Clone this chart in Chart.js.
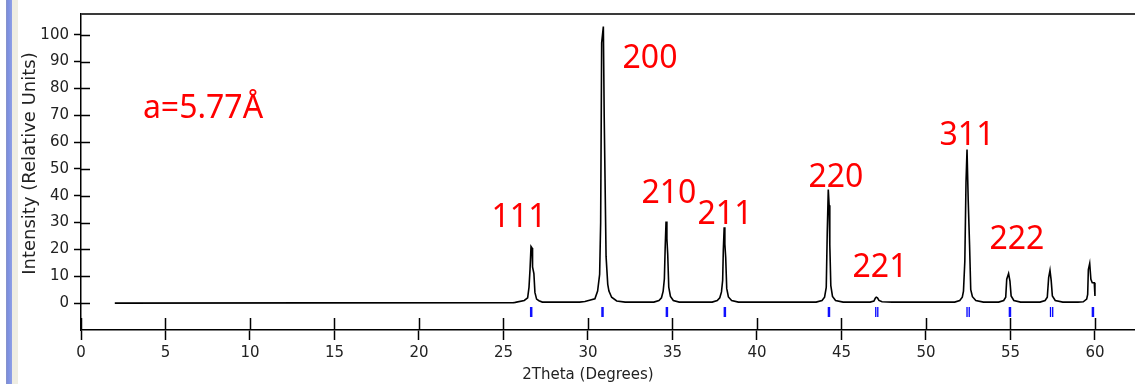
<!DOCTYPE html>
<html lang="en">
<head>
<meta charset="UTF-8">
<title>XRD pattern</title>
<script src="https://cdn.jsdelivr.net/npm/chart.js"></script>
<style>
body {
margin: 0;
background: #fff;
}
.frame {
position: relative;
width: 1135px;
height: 384px;
}
.edge-blue {
position: absolute;
left: 6px;
top: 0;
width: 6px;
height: 384px;
background: linear-gradient(to right, #8a94c4, #7b8ee0 30%, #8fa0e6);
}
.edge-cream {
position: absolute;
left: 12px;
top: 0;
width: 6px;
height: 384px;
background: #efede2;
}
canvas {
position: absolute;
left: 0;
top: 0;
}
</style>
</head>
<body>
<div class="frame">
<canvas id="xrd" width="1135" height="384"></canvas>
<div class="edge-blue"></div>
<div class="edge-cream"></div>
</div>

<script>
// measured pattern, 2theta in degrees and relative intensity
const twoTheta = [
2.0, 25.6, 25.7, 26.23, 26.43, 26.51, 26.57, 26.63, 26.69, 26.72, 26.8, 26.86, 26.96, 27.1, 27.3,
29.5, 29.82, 30.41, 30.57, 30.69, 30.75, 30.81, 30.91, 30.96, 31.07, 31.17, 31.24, 31.4, 31.7, 32.2,
33.9, 34.2, 34.35, 34.45, 34.52, 34.57, 34.62, 34.67, 34.72, 34.78, 34.88, 35.05, 35.4,
37.35, 37.65, 37.8, 37.9, 37.97, 38.01, 38.06, 38.1, 38.15, 38.21, 38.31, 38.5, 38.9,
43.5, 43.85, 44.0, 44.1, 44.16, 44.22, 44.27, 44.31, 44.37, 44.47, 44.65, 45.1,
46.7, 46.92, 47.0, 47.06, 47.13, 47.22, 47.4, 48.0,
51.7, 52.0, 52.15, 52.22, 52.3, 52.37, 52.43, 52.5, 52.58, 52.65, 52.75, 52.95, 53.4,
54.3, 54.6, 54.72, 54.78, 54.89, 54.97, 55.04, 55.2, 55.6,
56.75, 57.05, 57.18, 57.26, 57.34, 57.41, 57.48, 57.65, 58.1,
59.0, 59.31, 59.51, 59.57, 59.61, 59.69, 59.76, 59.84, 59.96, 60.0
];
const intensity = [
0, 0.2, 0.3, 1.0, 2.0, 5.9, 12.5, 21.1, 20.5, 13.5, 11, 4, 1.5, 0.9, 0.4,
0.4, 0.6, 1.6, 4.5, 10.7, 29.9, 97, 103, 69.7, 17.5, 7, 4.5, 2.2, 0.8, 0.4,
0.4, 1.0, 2.0, 4.5, 9, 21, 30.4, 24, 18, 6, 2.5, 1.0, 0.4,
0.4, 1.0, 2.0, 4.2, 8.5, 20, 28.3, 22, 17, 5.5, 2.3, 1.0, 0.4,
0.4, 1.0, 2.2, 5.9, 26.7, 42.3, 36.5, 21.8, 6.5, 2.5, 1.0, 0.4,
0.4, 0.8, 1.8, 2.2, 2.0, 1.0, 0.5, 0.4,
0.4, 1.0, 2.2, 4.5, 15.6, 45, 57.2, 38.4, 21.8, 5, 2.4, 1.0, 0.4,
0.4, 1.0, 2.2, 8.9, 11, 8.2, 2.7, 1.0, 0.4,
0.4, 1.0, 2.2, 9.5, 12.2, 8.5, 2.7, 1.0, 0.4,
0.4, 0.5, 1.5, 3.3, 12.5, 14.8, 8.9, 7.6, 7.6, 2.7
];

// calculated reflection positions (blue markers)
const singleMarks = [26.64, 30.86, 34.67, 38.1, 44.26, 54.97, 59.88];
const doubleMarks = [47.03, 47.15, 52.43, 52.56, 57.37, 57.5];
const markLevel = -3.3;

// hkl labels and where they sit (data units)
const hklText = ['111', '200', '210', '211', '220', '221', '311', '222'];
const hklX = [25.92, 33.67, 34.79, 38.11, 44.67, 47.28, 52.43, 55.38];
const hklY = [31.7, 91.1, 40.6, 32.8, 46.5, 13.3, 62.4, 23.6];
const cellText = 'a=5.77Å';
const cellPos = [7.22, 72.3];

const xTickValues = [0, 5, 10, 15, 20, 25, 30, 35, 40, 45, 50, 55, 60];
const yTickValues = [0, 10, 20, 30, 40, 50, 60, 70, 80, 90, 100];

const pattern = twoTheta.map((t, i) => ({ x: t, y: intensity[i] }));

const labelFont = '32px "Comic Sans MS", "Noto Sans", sans-serif';
const axisFont = '"DejaVu Sans", Verdana, sans-serif';

const extras = {
id: 'extras',
beforeDatasetsDraw(chart) {
const ctx = chart.ctx;
const xs = chart.scales.x;
const ys = chart.scales.y;
const area = chart.chartArea;
ctx.save();
// frame top line
ctx.strokeStyle = '#3a3a3a';
ctx.lineWidth = 2;
ctx.beginPath();
ctx.moveTo(area.left, area.top);
ctx.lineTo(area.right, area.top);
ctx.stroke();
// inner halves of the crossing ticks
ctx.strokeStyle = '#000';
ctx.lineWidth = 1.5;
ctx.beginPath();
ys.ticks.forEach(t => {
const py = Math.round(ys.getPixelForValue(t.value)) + 0.5;
ctx.moveTo(area.left, py);
ctx.lineTo(area.left + 9, py);
});
xs.ticks.forEach(t => {
const px = Math.round(xs.getPixelForValue(t.value)) + 0.5;
ctx.moveTo(px, area.bottom);
ctx.lineTo(px, area.bottom - 12);
});
ctx.stroke();
ctx.restore();
},
afterDatasetsDraw(chart) {
const ctx = chart.ctx;
const xs = chart.scales.x;
const ys = chart.scales.y;
ctx.save();
ctx.fillStyle = '#ff0000';
ctx.font = labelFont;
ctx.textAlign = 'center';
ctx.textBaseline = 'middle';
hklText.forEach((s, i) => {
ctx.fillText(s, xs.getPixelForValue(hklX[i]), ys.getPixelForValue(hklY[i]));
});
ctx.fillText(cellText, xs.getPixelForValue(cellPos[0]), ys.getPixelForValue(cellPos[1]));
// axis titles
ctx.fillStyle = '#222';
ctx.font = '15px ' + axisFont;
ctx.fillText('2Theta (Degrees)', xs.getPixelForValue(30), 375);
ctx.font = '18px ' + axisFont;
ctx.translate(30, ys.getPixelForValue(52));
ctx.rotate(-Math.PI / 2);
ctx.fillText('Intensity (Relative Units)', 0, 0);
ctx.restore();
}
};

new Chart(document.getElementById('xrd'), {
type: 'line',
data: {
datasets: [
{
data: pattern,
borderColor: '#000',
borderWidth: 1.6,
pointRadius: 0,
tension: 0,
fill: false
},
{
type: 'scatter',
data: singleMarks.map(v => ({ x: v, y: markLevel })),
pointStyle: 'line',
rotation: 90,
radius: 5,
borderColor: '#1010ff',
borderWidth: 2.5
},
{
type: 'scatter',
data: doubleMarks.map(v => ({ x: v, y: markLevel })),
pointStyle: 'line',
rotation: 90,
radius: 5,
borderColor: '#0000ff',
borderWidth: 1.3
}
]
},
options: {
responsive: false,
animation: false,
layout: {
autoPadding: false,
padding: { top: 12, left: 0, right: 0, bottom: 0 }
},
plugins: {
legend: { display: false },
tooltip: { enabled: false }
},
scales: {
x: {
type: 'linear',
min: 0,
max: 62.37,
afterFit(scale) { scale.height = 54; },
afterBuildTicks(scale) {
scale.ticks = xTickValues.map(v => ({ value: v }));
},
ticks: {
padding: 4,
color: '#222',
font: { family: axisFont, size: 15 },
maxRotation: 0,
autoSkip: false
},
grid: {
drawOnChartArea: false,
drawTicks: true,
tickLength: 10,
tickColor: '#000',
tickWidth: 1.5
},
border: { display: true, color: '#000', width: 1.5 }
},
y: {
min: -10,
max: 107.7,
afterFit(scale) { scale.width = 81; },
afterBuildTicks(scale) {
scale.ticks = yTickValues.map(v => ({ value: v }));
},
ticks: {
padding: 5,
color: '#222',
font: { family: axisFont, size: 15 },
autoSkip: false
},
grid: {
drawOnChartArea: false,
drawTicks: true,
tickLength: 7,
tickColor: '#000',
tickWidth: 1.5
},
border: { display: true, color: '#000', width: 1.5 }
}
}
},
plugins: [extras]
});
</script>
</body>
</html>
